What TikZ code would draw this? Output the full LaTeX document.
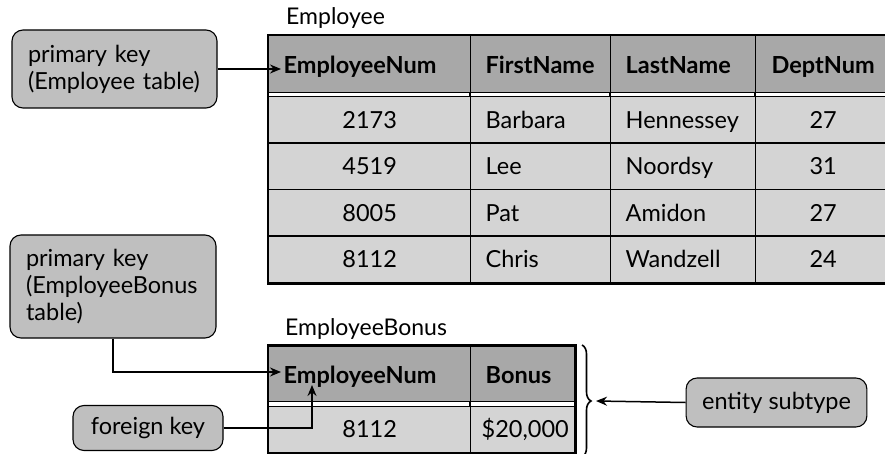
\documentclass[tikz,border=0pt]{standalone}
\usepackage{fontspec}
\setmainfont{Lato}
\usetikzlibrary{arrows.meta,decorations.pathreplacing}

\definecolor{hdrgray}{gray}{0.66}
\definecolor{rowgray}{gray}{0.83}
\definecolor{tipgray}{gray}{0.75}

\tikzset{
  cellbase/.style={draw=black, line width=1.3pt, anchor=north west, inner ysep=0pt,
    inner xsep=15pt, text height=17pt, text depth=0pt},
  hdr/.style={cellbase, fill=hdrgray, text height=19pt, font=\fontsize{23.5}{28}\selectfont\bfseries},
  dat/.style={cellbase, fill=rowgray, font=\fontsize{23.5}{28}\selectfont},
  gapcell/.style={draw=black, line width=1.3pt, fill=white, anchor=north west, inner sep=0pt},
  outer/.style={draw=black, line width=2.8pt},
  title/.style={anchor=base west, inner sep=0pt, font=\fontsize{23}{28}\selectfont},
  tip/.style={draw=black, line width=1.1pt, fill=tipgray, rounded corners=11pt,
    inner xsep=16pt, inner ysep=0pt, align=left, font=\fontsize{23.5}{27}\selectfont},
  link/.style={draw=black, line width=1.5pt, -{Stealth[length=11pt,width=9pt]}},
}

\begin{document}
\begin{tikzpicture}[x=1pt,y=-1pt]
\clip (0,0) rectangle (885,454);
\fill[white] (0,0) rectangle (885,454);

% ---------------- Employee table ----------------
\node[title] (tEmp) at (286,25) {Employee};

\node[hdr, minimum width=202, minimum height=57, text width=172, align=left] (e-h1) at (268,35) {EmployeeNum};
\node[hdr, minimum width=140, minimum height=57, text width=110, align=left] (e-h2) at (470,35) {FirstName};
\node[hdr, minimum width=145, minimum height=57, text width=115, align=left] (e-h3) at (610,35) {LastName};
\node[hdr, minimum width=135, minimum height=57] (e-h4) at (755,35) {DeptNum};

\node[gapcell, minimum width=622, minimum height=4] (e-gap) at (268,92) {};

\foreach \r/\y/\a/\b/\c/\d in {1/96/2173/Barbara/Hennessey/27,
                              2/142.5/4519/Lee/Noordsy/31,
                              3/189/8005/Pat/Amidon/27,
                              4/235.5/8112/Chris/Wandzell/24}{
  \node[dat, minimum width=202, minimum height=46.5] (e-r\r c1) at (268,\y) {\a};
  \node[dat, minimum width=140, minimum height=46.5, text width=110, align=left] (e-r\r c2) at (470,\y) {\b};
  \node[dat, minimum width=145, minimum height=46.5, text width=115, align=left] (e-r\r c3) at (610,\y) {\c};
  \node[dat, minimum width=135, minimum height=46.5] (e-r\r c4) at (755,\y) {\d};
}
\draw[draw=black, line width=1.3pt] (e-h2.south west) -- (e-r1c2.north west)
  (e-h3.south west) -- (e-r1c3.north west) (e-h4.south west) -- (e-r1c4.north west);
\draw[outer] (e-h1.north west) rectangle (e-r4c4.south east);

% ---------------- EmployeeBonus table ----------------
\node[title] (tBon) at (285,335) {EmployeeBonus};

\node[hdr, minimum width=202, minimum height=55, text width=172, align=left] (b-h1) at (268,345.5) {EmployeeNum};
\node[hdr, minimum width=104, minimum height=55, text width=74, align=left] (b-h2) at (470,345.5) {Bonus};
\node[gapcell, minimum width=306, minimum height=5] (b-gap) at (268,400.5) {};
\node[dat, minimum width=202, minimum height=46.5] (b-r1c1) at (268,405.5) {8112};
\node[dat, minimum width=104, minimum height=46.5, inner xsep=11pt, text width=82, align=left] (b-r1c2) at (470,405.5) {\$20,000};
\draw[draw=black, line width=1.3pt] (b-h2.south west) -- (b-r1c2.north west);
\draw[outer] (b-h1.north west) rectangle (b-r1c2.south east);

% brace grouping the subtype table
\coordinate (brTop) at (582,345);
\coordinate (brBot) at (582,457);
\draw[line width=1.6pt, decorate, decoration={brace, amplitude=9pt}] (brTop) -- (brBot);

% ---------------- callouts ----------------
\node[tip, minimum width=205, minimum height=78, text width=173] (pkEmp) at (114.5,69)
  {primary key\\(Employee table)};
\node[tip, minimum width=206, minimum height=103, text width=174] (pkBon) at (113,286.5)
  {primary key\\(EmployeeBonus\\table)};
\node[tip, minimum width=150, minimum height=45, align=center] (fk) at (148,428)
  {foreign key};
\node[tip, minimum width=177, minimum height=49, align=center] (sub) at (776.5,402.5)
  {entity subtype};

\coordinate (pkEmpEnd) at (281,69);
\coordinate (pkBonEnd) at (281,372);
\coordinate (fkEnd) at (312,385);
\coordinate (subEnd) at (596,401);

\draw[link] (pkEmp.east) -- (pkEmpEnd);
\draw[link] (pkBon.south) |- (pkBonEnd);
\draw[link] (fk.east) -| (fkEnd);
\draw[link] (sub.west) -- (subEnd);
\end{tikzpicture}
\end{document}
